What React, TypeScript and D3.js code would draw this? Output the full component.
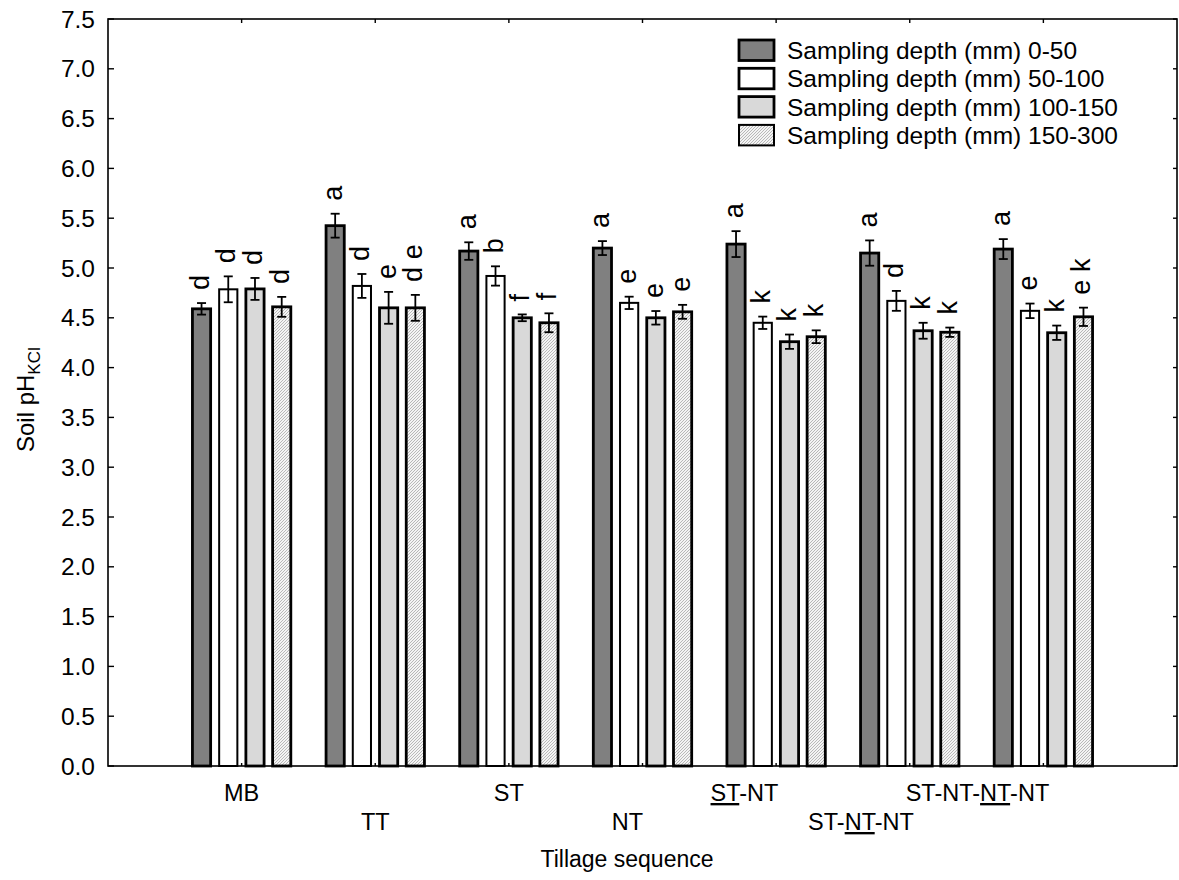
import React from "react";
import * as d3 from "d3";

const categories = ["MB", "TT", "ST", "NT", "ST-NT", "ST-NT-NT", "ST-NT-NT-NT"];
// index of the "-"-separated segment that is underlined (-1 = none)
const underlinedPart = [-1, -1, -1, -1, 0, 1, 2];
const depths = ["0-50", "50-100", "100-150", "150-300"];

const mean0_50 = [4.59, 5.425, 5.17, 5.2, 5.24, 5.15, 5.19];
const mean50_100 = [4.786, 4.82, 4.92, 4.65, 4.45, 4.67, 4.57];
const mean100_150 = [4.79, 4.6, 4.5, 4.5, 4.26, 4.37, 4.35];
const mean150_300 = [4.61, 4.6, 4.45, 4.56, 4.31, 4.355, 4.51];

const se0_50 = [0.058, 0.12, 0.088, 0.07, 0.13, 0.127, 0.1];
const se50_100 = [0.13, 0.12, 0.097, 0.062, 0.062, 0.1, 0.073];
const se100_150 = [0.11, 0.16, 0.034, 0.068, 0.072, 0.08, 0.072];
const se150_300 = [0.1, 0.13, 0.095, 0.07, 0.064, 0.047, 0.092];

const let0_50 = ["d", "a", "a", "a", "a", "a", "a"];
const let50_100 = ["d", "d", "b", "e", "k", "d", "e"];
const let100_150 = ["d", "e", "f", "e", "k", "k", "k"];
const let150_300 = ["d", "d e", "f", "e", "k", "k", "e k"];

const yTicks = d3.range(0, 7.51, 0.5);

const means = [mean0_50, mean50_100, mean100_150, mean150_300];
const ses = [se0_50, se50_100, se100_150, se150_300];
const letters = [let0_50, let50_100, let100_150, let150_300];

const FONT = "'Liberation Sans', Arial, sans-serif";
const fills = ["#808080", "#ffffff", "#d9d9d9", "url(#hatch)"];
const strokeW = [2.8, 2, 2.8, 2.8];

export default function App() {
  const W = 1179, H = 880;
  const left = 108, right = 1177, top = 19, bottom = 766;
  const x = d3.scaleLinear().domain([0, 8]).range([left, right]);
  const y = d3.scaleLinear().domain([0, 7.5]).range([bottom, top]);
  const slot = x(1) - x(0);
  const step = slot / 5;
  const bw = 18.2;

  const bars: React.ReactNode[] = [];
  const errs: React.ReactNode[] = [];
  const labs: React.ReactNode[] = [];
  categories.forEach((c, i) => {
    const cx = x(i + 1);
    for (let j = 0; j < 4; j++) {
      const bc = cx + (j - 1.5) * step;
      const m = means[j][i];
      const e = ses[j][i];
      bars.push(
        <rect key={`b${i}-${j}`} x={bc - bw / 2} y={y(m)} width={bw} height={y(0) - y(m)}
          fill={fills[j]} stroke="#000" strokeWidth={strokeW[j]} />
      );
      const yt = y(m + e), yb = y(m - e);
      errs.push(
        <g key={`e${i}-${j}`} stroke="#000" strokeWidth={1.8}>
          <line x1={bc} x2={bc} y1={yt} y2={yb} />
          <line x1={bc - 4.5} x2={bc + 4.5} y1={yt} y2={yt} />
          <line x1={bc - 4.5} x2={bc + 4.5} y1={yb} y2={yb} />
        </g>
      );
      labs.push(
        <text key={`l${i}-${j}`} transform={`translate(${bc + 7},${yt - 13}) rotate(-90)`}
          fontSize={27} fontFamily={FONT} textAnchor="start" fill="#000" xmlSpace="preserve">
          {letters[j][i]}
        </text>
      );
    }
  });

  const xLabels = categories.map((c, i) => {
    const cx = x(i + 1);
    const row = i % 2 === 0 ? 801 : 830;
    const parts = c.split("-");
    const anchor = i >= 3 ? "end" : "middle";
    const xx = i >= 3 ? cx + 0.5 + 1.8 * (parts.length - 1) : cx;
    return (
      <text key={`x${i}`} x={xx} y={row} fontSize={23.5} fontFamily={FONT} textAnchor={anchor} fill="#000">
        {parts.map((p, k) => (
          <React.Fragment key={k}>
            {k > 0 ? <tspan>-</tspan> : null}
            <tspan style={k === underlinedPart[i] ? { textDecoration: "underline" } : undefined}>{p}</tspan>
          </React.Fragment>
        ))}
      </text>
    );
  });

  const legX = 739, legY0 = 40, legStep = 28.3;

  return (
    <svg width={W} height={H} style={{ position: "absolute", left: 0, top: 0, background: "#fff" }}>
      <defs>
        <pattern id="hatch" patternUnits="userSpaceOnUse" width={3} height={3}>
          <rect width={3} height={3} fill="#f4f4f4" />
          <path d="M-1,1 L1,-1 M0,3 L3,0 M2,4 L4,2" stroke="#a8a8a8" strokeWidth={0.8} />
        </pattern>
      </defs>
      <rect x={0} y={0} width={W} height={H} fill="#fff" />
      {bars}
      {errs}
      {labs}
      {/* frame */}
      <rect x={left} y={top} width={right - left} height={bottom - top} fill="none" stroke="#000" strokeWidth={1.6} />
      {/* y ticks */}
      {yTicks.map((t) => (
        <g key={`yt${t}`}>
          <line x1={left} x2={left + 6} y1={y(t)} y2={y(t)} stroke="#000" strokeWidth={1.4} />
          <line x1={right - 4} x2={right} y1={y(t)} y2={y(t)} stroke="#000" strokeWidth={1.4} />
          <text x={left - 13} y={y(t) + 8.5} fontSize={24.5} fontFamily={FONT} textAnchor="end" fill="#000">
            {t.toFixed(1)}
          </text>
        </g>
      ))}
      {/* x ticks */}
      {categories.map((c, i) => (
        <g key={`xt${i}`}>
          <line x1={x(i + 1)} x2={x(i + 1)} y1={top} y2={top + 4} stroke="#000" strokeWidth={1.4} />
          <line x1={x(i + 1)} x2={x(i + 1)} y1={bottom} y2={bottom - 3} stroke="#000" strokeWidth={1.4} />
        </g>
      ))}
      {xLabels}
      <text x={627} y={867} fontSize={23} fontFamily={FONT} textAnchor="middle" fill="#000">Tillage sequence</text>
      <text transform={`translate(34,452) rotate(-90)`} fontSize={24} fontFamily={FONT} textAnchor="start" fill="#000">
        Soil pH<tspan fontSize={17} dy={6}>KCl</tspan>
      </text>
      {/* legend */}
      {depths.map((d, j) => {
        const ly = legY0 + j * legStep;
        return (
          <g key={`lg${j}`}>
            <rect x={legX} y={ly} width={35} height={20.5} fill={fills[j]} stroke="#000"
              strokeWidth={j === 3 ? 2 : 2.8} />
            <text x={787} y={ly + 19} fontSize={24.5} fontFamily={FONT} fill="#000">
              {`Sampling depth (mm) ${d}`}
            </text>
          </g>
        );
      })}
    </svg>
  );
}
